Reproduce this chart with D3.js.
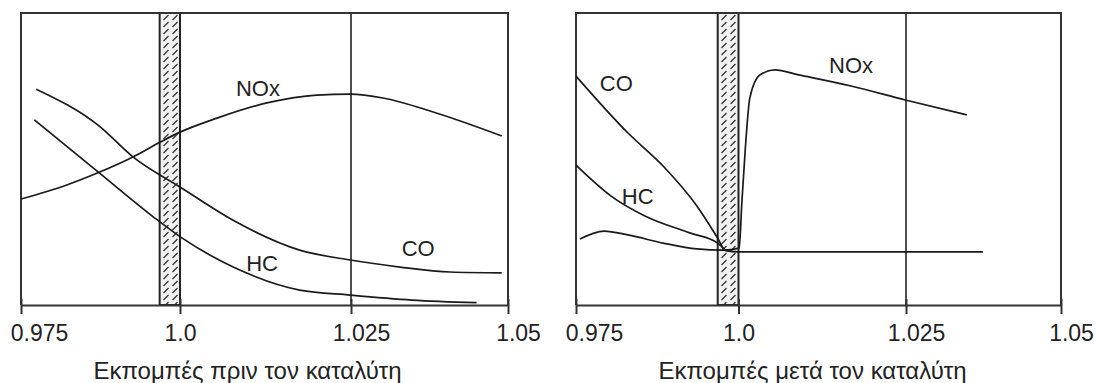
<!DOCTYPE html>
<html>
<head>
<meta charset="utf-8">
<script src="https://cdn.jsdelivr.net/npm/d3@7/dist/d3.min.js"></script>
<style>
    body {margin: 0; background: #fff;}
    svg {display: block;}
    text {font-family: "Liberation Sans", Arial, sans-serif; fill: #222;}
</style>
</head>
<body>
<div id="chart"></div>
<script>
// lambda ticks along the bottom
const tickValues = [0.975, 1.0, 1.025, 1.05];
const tickLabels = ["0.975", "1.0", "1.025", "1.05"];
const catalystBand = [0.9968, 1.0];
const markerLine = 1.025;

// before the catalyst  [lambda, level]
const beforeNOx = [[0.975, 36.3], [0.9822, 41.1], [0.9869, 45.1], [0.9926, 50.7], [0.9969, 55.8],
    [1.0, 59.2], [1.0054, 64.0], [1.0127, 69.2], [1.0200, 71.9], [1.0249, 72.2],
    [1.0301, 70.9], [1.0381, 66.1], [1.0490, 57.9]];
const beforeCO = [[0.9774, 73.9], [0.9874, 61.1], [0.9926, 50.7], [1.0, 40.4], [1.0077, 29.1],
    [1.0175, 18.8], [1.0249, 15.4], [1.0328, 13.0], [1.0408, 11.3], [1.0490, 11.0]];
const beforeHC = [[0.9771, 63.4], [0.9874, 45.1], [0.9958, 30.2], [1.0, 23.4], [1.0077, 13.1],
    [1.0175, 5.1], [1.0249, 3.4], [1.0347, 1.7], [1.0450, 0.8]];

// after the catalyst
const afterNOx = [[0.9756, 22.6], [0.9793, 25.3], [0.9830, 24.0], [0.9884, 21.2], [0.9936, 19.2],
    [0.9977, 18.8], [1.0001, 19.5], [1.0005, 35.0], [1.0010, 53.0], [1.0017, 71.0],
    [1.0032, 78.8], [1.0054, 80.5], [1.0090, 78.8], [1.0168, 75.0], [1.0249, 70.2], [1.0348, 65.1]];
const afterCO = [[0.975, 78.4], [0.9830, 58.9], [0.9884, 47.6], [0.9936, 33.9], [0.9968, 22.9],
    [0.9980, 18.6], [1.0, 18.2], [1.0374, 18.2]];
const afterHC = [[0.975, 47.9], [0.9804, 37.3], [0.9856, 30.5], [0.9925, 24.7], [0.9968, 21.2],
    [0.9980, 18.6]];

// curve labels [text, lambda, level]
const beforeLabels = [["NOx", 1.0114, 74.3], ["CO", 1.0357, 19.5], ["HC", 1.012, 14.4]];
const afterLabels = [["CO", 0.9812, 76.0], ["HC", 0.9845, 37.3], ["NOx", 1.0168, 82.2]];

const beforeTitle = "Εκπομπές πριν τον καταλύτη";
const afterTitle = "Εκπομπές μετά τον καταλύτη";

const W = 1096, H = 383,
    plotTop = 13, plotBottom = 305;

const panels = [
    {range: [21, 180, 351, 508], series: [beforeNOx, beforeCO, beforeHC], labels: beforeLabels, title: beforeTitle, titleShift: -17},
    {range: [576, 738.5, 906, 1061], series: [afterNOx, afterCO, afterHC], labels: afterLabels, title: afterTitle, titleShift: -6}
];

const svg = d3.select("#chart")
    .append("svg")
    .attr("width", W)
    .attr("height", H);

svg.append("rect").attr("width", W).attr("height", H).attr("fill", "#fff");

const pat = svg.append("defs").append("pattern")
    .attr("id", "hatch")
    .attr("patternUnits", "userSpaceOnUse")
    .attr("width", 9)
    .attr("height", 7);
pat.append("rect").attr("width", 9).attr("height", 7).attr("fill", "#f2f2f2");
pat.append("line")
    .attr("x1", 1.5).attr("y1", 6)
    .attr("x2", 6.5).attr("y2", 1)
    .attr("stroke", "#333")
    .attr("stroke-width", 1.3);

const y = d3.scaleLinear().domain([0, 100]).range([plotBottom, plotTop]);

panels.forEach(p => drawPanel(p));

function drawPanel(p) {
    const x = d3.scaleLinear().domain(tickValues).range(p.range);
    const x0 = p.range[0], x1 = p.range[p.range.length - 1];
    const g = svg.append("g");

    // catalyst window
    g.append("rect")
        .attr("x", x(catalystBand[0]))
        .attr("y", plotTop)
        .attr("width", x(catalystBand[1]) - x(catalystBand[0]))
        .attr("height", plotBottom - plotTop)
        .attr("fill", "url(#hatch)")
        .attr("stroke", "#222")
        .attr("stroke-width", 2);

    // lambda marker
    g.append("line")
        .attr("x1", x(markerLine)).attr("x2", x(markerLine))
        .attr("y1", plotTop).attr("y2", plotBottom)
        .attr("stroke", "#222")
        .attr("stroke-width", 1.6);

    // frame
    g.append("path")
        .attr("d", `M${x0},${plotBottom}V${plotTop}H${x1}V${plotBottom}`)
        .attr("fill", "none")
        .attr("stroke", "#333")
        .attr("stroke-width", 2);

    const line = d3.line()
        .x(d => x(d[0]))
        .y(d => y(d[1]))
        .curve(d3.curveMonotoneX);

    g.selectAll(".curve")
        .data(p.series)
        .enter().append("path")
        .attr("class", "curve")
        .attr("d", line)
        .attr("fill", "none")
        .attr("stroke", "#1a1a1a")
        .attr("stroke-width", 1.7);

    g.selectAll(".lbl")
        .data(p.labels)
        .enter().append("text")
        .attr("class", "lbl")
        .attr("x", d => x(d[1]))
        .attr("y", d => y(d[2]))
        .attr("dy", "0.36em")
        .attr("text-anchor", "middle")
        .style("font-size", "22px")
        .text(d => d[0]);

    const xAxis = d3.axisBottom(x)
        .tickValues(tickValues)
        .tickFormat((d, i) => tickLabels[i])
        .tickSizeInner(9)
        .tickSizeOuter(0)
        .tickPadding(11);

    const ax = g.append("g")
        .attr("transform", "translate(0," + plotBottom + ")")
        .call(xAxis);
    ax.select(".domain")
        .attr("stroke", "#333")
        .attr("stroke-width", 2);
    ax.selectAll(".tick line")
        .attr("y1", -6)
        .attr("stroke", "#333")
        .attr("stroke-width", 2);
    ax.selectAll(".tick text")
        .attr("font-family", null)
        .style("font-size", "23px")
        .attr("fill", "#222")
        .attr("dx", (d, i) => i === 0 ? 18 : (i === 1 ? 0 : 10));

    svg.append("text")
        .attr("x", (x0 + x1) / 2 + p.titleShift)
        .attr("y", 379)
        .attr("text-anchor", "middle")
        .style("font-size", "24px")
        .text(p.title);
}
</script>
</body>
</html>
